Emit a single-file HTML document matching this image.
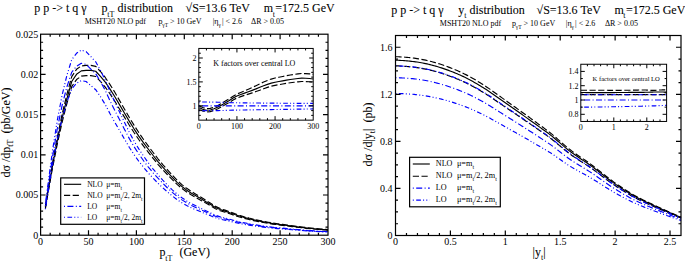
<!DOCTYPE html>
<html><head><meta charset="utf-8"><style>
html,body{margin:0;padding:0;background:#fff;}
svg{display:block;}
text{font-family:"Liberation Serif", serif;fill:#000;}
</style></head><body>
<svg width="685" height="261" viewBox="0 0 685 261">
<g stroke-linejoin="round">
<path d="M45.39,208.54 L47.79,194.27 L52.58,167.66 L57.37,143.71 L62.16,122.04 L66.94,103.26 L71.73,86.61 L76.53,79.57 L81.31,76.18 L86.1,75.66 L90.89,75.66 L95.69,76.52 L100.47,81.45 L105.27,87.13 L110.06,93.94 L114.84,101.28 L119.63,109.22 L124.42,117.13 L129.22,125.02 L134,132.48 L138.79,139.52 L143.58,146.13 L148.38,152.35 L153.16,158.4 L157.96,164.29 L162.75,169.73 L167.53,174.77 L172.32,179.66 L177.11,184.42 L181.91,188.48 L186.69,191.97 L191.48,195.01 L196.27,197.68 L201.06,200.39 L205.85,203.12 L210.64,205.91 L215.43,208.76 L220.22,210.8 L225.01,212.26 L229.8,213.81 L234.59,215.45 L239.38,216.93 L244.17,218.27 L248.96,219.48 L253.75,220.59 L258.54,221.59 L263.34,222.5 L268.12,223.34 L272.92,224.11 L277.7,224.76 L282.5,225.31 L287.29,225.92 L292.07,226.58 L296.87,227.2 L301.66,227.78 L306.45,228.31 L311.24,228.82 L316.03,229.25 L320.81,229.62 L325.61,230 L328,230.19" fill="none" stroke="#000" stroke-width="1.15" stroke-dasharray="6.2 2.5"/>
<path d="M45.39,206.39 L47.79,191.04 L52.58,162.51 L57.37,136.98 L62.16,113.99 L66.94,94.16 L71.73,76.63 L76.53,69.34 L81.31,65.9 L86.1,65.43 L90.89,65.43 L95.69,66.31 L100.47,71.5 L105.27,77.46 L110.06,84.61 L114.84,92.32 L119.63,100.66 L124.42,108.98 L129.22,117.29 L134,125.13 L138.79,132.55 L143.58,139.53 L148.38,146.1 L153.16,152.51 L157.96,158.76 L162.75,164.55 L167.53,169.92 L172.32,175.14 L177.11,180.24 L181.91,184.6 L186.69,188.35 L191.48,191.61 L196.27,194.47 L201.06,197.36 L205.85,200.29 L210.64,203.29 L215.43,206.37 L220.22,208.57 L225.01,210.15 L229.8,211.83 L234.59,213.63 L239.38,215.24 L244.17,216.69 L248.96,218.01 L253.75,219.21 L258.54,220.29 L263.34,221.28 L268.12,222.19 L272.92,223.02 L277.7,223.73 L282.5,224.32 L287.29,224.98 L292.07,225.71 L296.87,226.38 L301.66,227.01 L306.45,227.59 L311.24,228.14 L316.03,228.61 L320.81,229.02 L325.61,229.44 L328,229.64" fill="none" stroke="#000" stroke-width="1.15" stroke-dasharray="6.2 2.5"/>
<path d="M45.39,207.46 L47.79,192.65 L52.58,165.06 L57.37,140.3 L62.16,117.94 L66.94,98.61 L71.73,81.49 L76.53,74.31 L81.31,70.88 L86.1,70.38 L90.89,70.38 L95.69,71.26 L100.47,76.33 L105.27,82.18 L110.06,89.18 L114.84,96.73 L119.63,104.89 L124.42,113.03 L129.22,121.15 L134,128.82 L138.79,136.06 L143.58,142.87 L148.38,149.27 L153.16,155.5 L157.96,161.57 L162.75,167.19 L167.53,172.38 L172.32,177.43 L177.11,182.35 L181.91,186.54 L186.69,190.15 L191.48,193.29 L196.27,196.04 L201.06,198.82 L205.85,201.63 L210.64,204.52 L215.43,207.48 L220.22,209.59 L225.01,211.11 L229.8,212.73 L234.59,214.46 L239.38,216.01 L244.17,217.42 L248.96,218.7 L253.75,219.86 L258.54,220.92 L263.34,221.89 L268.12,222.77 L272.92,223.58 L277.7,224.27 L282.5,224.85 L287.29,225.48 L292.07,226.18 L296.87,226.83 L301.66,227.44 L306.45,228 L311.24,228.53 L316.03,228.98 L320.81,229.38 L325.61,229.77 L328,229.97" fill="none" stroke="#000" stroke-width="1.15"/>
<path d="M45.39,209.23 L47.79,194.13 L52.58,164.54 L57.37,139.23 L62.16,118.46 L66.94,101.85 L71.73,88.8 L76.53,83.36 L81.31,80.54 L86.1,81.56 L90.89,85.66 L95.69,89.7 L100.47,96.67 L105.27,104.6 L110.06,113.77 L114.84,122.34 L119.63,130.64 L124.42,138.95 L129.22,147.23 L134,154.6 L138.79,161.23 L143.58,167.37 L148.38,173.05 L153.16,178.29 L157.96,183.17 L162.75,187.74 L167.53,192.03 L172.32,195.99 L177.11,199.69 L181.91,202.84 L186.69,205.55 L191.48,207.9 L196.27,209.95 L201.06,211.93 L205.85,213.86 L210.64,215.82 L215.43,217.8 L220.22,219.21 L225.01,220.22 L229.8,221.29 L234.59,222.42 L239.38,223.42 L244.17,224.31 L248.96,225.12 L253.75,225.86 L258.54,226.52 L263.34,227.11 L268.12,227.65 L272.92,228.15 L277.7,228.58 L282.5,228.95 L287.29,229.34 L292.07,229.77 L296.87,230.16 L301.66,230.53 L306.45,230.87 L311.24,231.2 L316.03,231.47 L320.81,231.71 L325.61,231.95 L328,232.07" fill="none" stroke="#0000ff" stroke-width="1.15" stroke-dasharray="1 2.4 4.7 2.2 1 2.2"/>
<path d="M45.39,203.94 L47.79,185.77 L52.58,150.2 L57.37,119.83 L62.16,94.96 L66.94,75.15 L71.73,59.66 L76.53,53.32 L81.31,50.15 L86.1,51.58 L90.89,56.69 L95.69,61.82 L100.47,70.47 L105.27,80.28 L110.06,91.52 L114.84,102.03 L119.63,112.15 L124.42,122.21 L129.22,132.16 L134,140.98 L138.79,148.86 L143.58,156.13 L148.38,162.85 L153.16,169.03 L157.96,174.77 L162.75,180.14 L167.53,185.17 L172.32,189.81 L177.11,194.14 L181.91,197.82 L186.69,200.97 L191.48,203.71 L196.27,206.11 L201.06,208.41 L205.85,210.66 L210.64,212.93 L215.43,215.22 L220.22,216.86 L225.01,218.04 L229.8,219.28 L234.59,220.58 L239.38,221.74 L244.17,222.77 L248.96,223.7 L253.75,224.56 L258.54,225.32 L263.34,226 L268.12,226.62 L272.92,227.2 L277.7,227.69 L282.5,228.12 L287.29,228.57 L292.07,229.06 L296.87,229.51 L301.66,229.93 L306.45,230.32 L311.24,230.69 L316.03,231 L320.81,231.28 L325.61,231.55 L328,231.68" fill="none" stroke="#0000ff" stroke-width="1.15" stroke-dasharray="1 2.4 4.7 2.2 1 2.2"/>
<path d="M45.39,206.25 L47.79,189.42 L52.58,156.45 L57.37,128.27 L62.16,105.16 L66.94,86.72 L71.73,72.26 L76.53,66.28 L81.31,63.22 L86.1,64.44 L90.89,69.09 L95.69,73.71 L100.47,81.59 L105.27,90.56 L110.06,100.88 L114.84,110.53 L119.63,119.85 L124.42,129.15 L129.22,138.39 L134,146.59 L138.79,153.95 L143.58,160.75 L148.38,167.04 L153.16,172.83 L157.96,178.22 L162.75,183.26 L167.53,187.99 L172.32,192.35 L177.11,196.42 L181.91,199.88 L186.69,202.85 L191.48,205.43 L196.27,207.69 L201.06,209.86 L205.85,211.97 L210.64,214.12 L215.43,216.28 L220.22,217.83 L225.01,218.94 L229.8,220.11 L234.59,221.34 L239.38,222.43 L244.17,223.41 L248.96,224.29 L253.75,225.1 L258.54,225.82 L263.34,226.46 L268.12,227.05 L272.92,227.6 L277.7,228.06 L282.5,228.47 L287.29,228.9 L292.07,229.36 L296.87,229.79 L301.66,230.19 L306.45,230.56 L311.24,230.91 L316.03,231.21 L320.81,231.47 L325.61,231.72 L328,231.85" fill="none" stroke="#0000ff" stroke-width="1.15" stroke-dasharray="1 2.4 6 2.4"/>
</g>
<rect x="40.6" y="34.2" width="287.4" height="201" fill="none" stroke="#000" stroke-width="1.2"/>
<path d="M50.18,235.2v-2.5M50.18,34.2v2.5M59.76,235.2v-2.5M59.76,34.2v2.5M69.34,235.2v-2.5M69.34,34.2v2.5M78.92,235.2v-2.5M78.92,34.2v2.5M88.5,235.2v-5M88.5,34.2v5M98.08,235.2v-2.5M98.08,34.2v2.5M107.66,235.2v-2.5M107.66,34.2v2.5M117.24,235.2v-2.5M117.24,34.2v2.5M126.82,235.2v-2.5M126.82,34.2v2.5M136.4,235.2v-5M136.4,34.2v5M145.98,235.2v-2.5M145.98,34.2v2.5M155.56,235.2v-2.5M155.56,34.2v2.5M165.14,235.2v-2.5M165.14,34.2v2.5M174.72,235.2v-2.5M174.72,34.2v2.5M184.3,235.2v-5M184.3,34.2v5M193.88,235.2v-2.5M193.88,34.2v2.5M203.46,235.2v-2.5M203.46,34.2v2.5M213.04,235.2v-2.5M213.04,34.2v2.5M222.62,235.2v-2.5M222.62,34.2v2.5M232.2,235.2v-5M232.2,34.2v5M241.78,235.2v-2.5M241.78,34.2v2.5M251.36,235.2v-2.5M251.36,34.2v2.5M260.94,235.2v-2.5M260.94,34.2v2.5M270.52,235.2v-2.5M270.52,34.2v2.5M280.1,235.2v-5M280.1,34.2v5M289.68,235.2v-2.5M289.68,34.2v2.5M299.26,235.2v-2.5M299.26,34.2v2.5M308.84,235.2v-2.5M308.84,34.2v2.5M318.42,235.2v-2.5M318.42,34.2v2.5M40.6,227.16h2.5M328,227.16h-2.5M40.6,219.12h2.5M328,219.12h-2.5M40.6,211.08h2.5M328,211.08h-2.5M40.6,203.04h2.5M328,203.04h-2.5M40.6,195h5M328,195h-5M40.6,186.96h2.5M328,186.96h-2.5M40.6,178.92h2.5M328,178.92h-2.5M40.6,170.88h2.5M328,170.88h-2.5M40.6,162.84h2.5M328,162.84h-2.5M40.6,154.8h5M328,154.8h-5M40.6,146.76h2.5M328,146.76h-2.5M40.6,138.72h2.5M328,138.72h-2.5M40.6,130.68h2.5M328,130.68h-2.5M40.6,122.64h2.5M328,122.64h-2.5M40.6,114.6h5M328,114.6h-5M40.6,106.56h2.5M328,106.56h-2.5M40.6,98.52h2.5M328,98.52h-2.5M40.6,90.48h2.5M328,90.48h-2.5M40.6,82.44h2.5M328,82.44h-2.5M40.6,74.4h5M328,74.4h-5M40.6,66.36h2.5M328,66.36h-2.5M40.6,58.32h2.5M328,58.32h-2.5M40.6,50.28h2.5M328,50.28h-2.5M40.6,42.24h2.5M328,42.24h-2.5" stroke="#000" stroke-width="1.2" fill="none"/>
<text x="38.2" y="37.6" font-size="10" text-anchor="end">0.025</text>
<text x="38.2" y="77.8" font-size="10" text-anchor="end">0.02</text>
<text x="38.2" y="118" font-size="10" text-anchor="end">0.015</text>
<text x="38.2" y="158.2" font-size="10" text-anchor="end">0.01</text>
<text x="38.2" y="198.4" font-size="10" text-anchor="end">0.005</text>
<text x="38.2" y="238.6" font-size="10" text-anchor="end">0</text>
<text x="40.6" y="245.2" font-size="10" text-anchor="middle">0</text>
<text x="88.5" y="245.2" font-size="10" text-anchor="middle">50</text>
<text x="136.4" y="245.2" font-size="10" text-anchor="middle">100</text>
<text x="184.3" y="245.2" font-size="10" text-anchor="middle">150</text>
<text x="232.2" y="245.2" font-size="10" text-anchor="middle">200</text>
<text x="280.1" y="245.2" font-size="10" text-anchor="middle">250</text>
<text x="328" y="245.2" font-size="10" text-anchor="middle">300</text>
<rect x="198.8" y="48.44" width="114.4" height="71.7" fill="#fff" stroke="none"/>
<g stroke-linejoin="round">
<path d="M198.8,109.78 L200.71,109.97 L202.61,110.9 L206.43,111.89 L210.24,111.59 L214.05,110.32 L217.87,108.67 L221.68,106.66 L225.49,104.57 L229.31,102.37 L233.12,99.96 L236.93,97.99 L240.75,96.62 L244.56,95.34 L248.37,94.13 L252.19,92.88 L256,91.57 L259.81,90.18 L263.63,88.71 L267.44,87.39 L271.25,86.22 L275.07,85.35 L278.88,84.7 L282.69,84.01 L286.51,83.3 L290.32,82.74 L294.13,82.3 L297.95,81.81 L301.76,81.47 L305.57,81.55 L309.39,81.74 L313.2,82.16" fill="none" stroke="#000" stroke-width="1.15" stroke-dasharray="6.2 2.5"/>
<path d="M198.8,106.13 L200.71,106.41 L202.61,107.47 L206.43,108.65 L210.24,108.42 L214.05,107.14 L217.87,105.41 L221.68,103.29 L225.49,101.08 L229.31,98.75 L233.12,96.18 L236.93,94.06 L240.75,92.44 L244.56,90.81 L248.37,89.18 L252.19,87.45 L256,85.65 L259.81,83.82 L263.63,81.98 L267.44,80.43 L271.25,79.07 L275.07,78.06 L278.88,77.29 L282.69,76.5 L286.51,75.67 L290.32,75.02 L294.13,74.49 L297.95,73.92 L301.76,73.52 L305.57,73.61 L309.39,73.84 L313.2,74.33" fill="none" stroke="#000" stroke-width="1.15" stroke-dasharray="6.2 2.5"/>
<path d="M198.8,107.95 L200.71,108.19 L202.61,109.18 L206.43,110.27 L210.24,110.01 L214.05,108.73 L217.87,107.04 L221.68,104.98 L225.49,102.83 L229.31,100.56 L233.12,98.07 L236.93,96.03 L240.75,94.56 L244.56,93.14 L248.37,91.78 L252.19,90.35 L256,88.87 L259.81,87.33 L263.63,85.73 L267.44,84.34 L271.25,83.12 L275.07,82.21 L278.88,81.52 L282.69,80.81 L286.51,80.07 L290.32,79.48 L294.13,79.02 L297.95,78.51 L301.76,78.18 L305.57,78.29 L309.39,78.54 L313.2,79.03" fill="none" stroke="#000" stroke-width="1.15"/>
<path d="M198.8,110.72 L200.71,110.72 L202.61,110.72 L206.43,110.69 L210.24,110.66 L214.05,110.62 L217.87,110.58 L221.68,110.51 L225.49,110.42 L229.31,110.3 L233.12,110.19 L236.93,110.1 L240.75,110.03 L244.56,109.97 L248.37,109.91 L252.19,109.85 L256,109.8 L259.81,109.75 L263.63,109.69 L267.44,109.64 L271.25,109.59 L275.07,109.53 L278.88,109.47 L282.69,109.41 L286.51,109.35 L290.32,109.29 L294.13,109.22 L297.95,109.16 L301.76,109.1 L305.57,109.04 L309.39,108.97 L313.2,108.91" fill="none" stroke="#0000ff" stroke-width="1.15" stroke-dasharray="1 2.4 4.7 2.2 1 2.2"/>
<path d="M198.8,101.98 L200.71,101.99 L202.61,102 L206.43,102.04 L210.24,102.09 L214.05,102.15 L217.87,102.22 L221.68,102.31 L225.49,102.44 L229.31,102.58 L233.12,102.7 L236.93,102.79 L240.75,102.85 L244.56,102.9 L248.37,102.94 L252.19,102.98 L256,103.02 L259.81,103.05 L263.63,103.08 L267.44,103.11 L271.25,103.14 L275.07,103.17 L278.88,103.2 L282.69,103.23 L286.51,103.26 L290.32,103.28 L294.13,103.31 L297.95,103.33 L301.76,103.35 L305.57,103.37 L309.39,103.39 L313.2,103.41" fill="none" stroke="#0000ff" stroke-width="1.15" stroke-dasharray="1 2.4 4.7 2.2 1 2.2"/>
<path d="M198.8,105.8 L200.71,105.8 L202.61,105.8 L206.43,105.8 L210.24,105.8 L214.05,105.8 L217.87,105.8 L221.68,105.8 L225.49,105.8 L229.31,105.8 L233.12,105.8 L236.93,105.8 L240.75,105.8 L244.56,105.8 L248.37,105.8 L252.19,105.8 L256,105.8 L259.81,105.8 L263.63,105.8 L267.44,105.8 L271.25,105.8 L275.07,105.8 L278.88,105.8 L282.69,105.8 L286.51,105.8 L290.32,105.8 L294.13,105.8 L297.95,105.8 L301.76,105.8 L305.57,105.8 L309.39,105.8 L313.2,105.8" fill="none" stroke="#0000ff" stroke-width="1.15" stroke-dasharray="1 2.4 6 2.4"/>
</g>
<rect x="198.8" y="48.44" width="114.4" height="71.7" fill="none" stroke="#000" stroke-width="1.0"/>
<path d="M206.43,120.14v-2M206.43,48.44v2M214.05,120.14v-2M214.05,48.44v2M221.68,120.14v-2M221.68,48.44v2M229.31,120.14v-2M229.31,48.44v2M236.93,120.14v-4M236.93,48.44v4M244.56,120.14v-2M244.56,48.44v2M252.19,120.14v-2M252.19,48.44v2M259.81,120.14v-2M259.81,48.44v2M267.44,120.14v-2M267.44,48.44v2M275.07,120.14v-4M275.07,48.44v4M282.69,120.14v-2M282.69,48.44v2M290.32,120.14v-2M290.32,48.44v2M297.95,120.14v-2M297.95,48.44v2M305.57,120.14v-2M305.57,48.44v2M198.8,115.36h2M313.2,115.36h-2M198.8,110.58h2M313.2,110.58h-2M198.8,105.8h4M313.2,105.8h-4M198.8,101.02h2M313.2,101.02h-2M198.8,96.24h2M313.2,96.24h-2M198.8,91.46h2M313.2,91.46h-2M198.8,86.68h2M313.2,86.68h-2M198.8,81.9h4M313.2,81.9h-4M198.8,77.12h2M313.2,77.12h-2M198.8,72.34h2M313.2,72.34h-2M198.8,67.56h2M313.2,67.56h-2M198.8,62.78h2M313.2,62.78h-2M198.8,58h4M313.2,58h-4M198.8,53.22h2M313.2,53.22h-2" stroke="#000" stroke-width="1.0" fill="none"/>
<text x="196.5" y="60.8" font-size="8" text-anchor="end">2</text>
<text x="196.5" y="84.7" font-size="8" text-anchor="end">1.5</text>
<text x="196.5" y="108.6" font-size="8" text-anchor="end">1</text>
<text x="198.8" y="129.2" font-size="8" text-anchor="middle">0</text>
<text x="236.93" y="129.2" font-size="8" text-anchor="middle">100</text>
<text x="275.07" y="129.2" font-size="8" text-anchor="middle">200</text>
<text x="313.2" y="129.2" font-size="8" text-anchor="middle">300</text>
<text x="213.2" y="65.9" font-size="8">K factors over central LO</text>
<rect x="60.7" y="177.9" width="83.8" height="46.4" fill="#fff" stroke="#000" stroke-width="1.2"/>
<path d="M64,184.3H81.2" stroke="#000" stroke-width="1.15"/>
<text x="87.2" y="186.7" font-size="7.5">NLO</text>
<text x="106.3" y="186.7" font-size="7.5">μ=m<tspan font-size="5.5" dy="2.9">t</tspan></text>
<path d="M64,195.3H81.2" stroke="#000" stroke-width="1.15" stroke-dasharray="6.2 2.5"/>
<text x="87.2" y="197.7" font-size="7.5">NLO</text>
<text x="106.3" y="197.7" font-size="7.5">μ=m<tspan font-size="5.5" dy="2.9">t</tspan><tspan dy="-2.9">/2, 2m</tspan><tspan font-size="5.5" dy="2.9">t</tspan></text>
<path d="M64,206.3H81.2" stroke="#0000ff" stroke-width="1.15" stroke-dasharray="1 2.4 6 2.4"/>
<text x="87.2" y="208.7" font-size="7.5">LO</text>
<text x="106.3" y="208.7" font-size="7.5">μ=m<tspan font-size="5.5" dy="2.9">t</tspan></text>
<path d="M64,217.2H81.2" stroke="#0000ff" stroke-width="1.15" stroke-dasharray="1 2.4 4.7 2.2 1 2.2"/>
<text x="87.2" y="219.6" font-size="7.5">LO</text>
<text x="106.3" y="219.6" font-size="7.5">μ=m<tspan font-size="5.5" dy="2.9">t</tspan><tspan dy="-2.9">/2, 2m</tspan><tspan font-size="5.5" dy="2.9">t</tspan></text>
<text x="34.2" y="12.2" font-size="12" stroke="#000" stroke-width="0.08">p p -&gt; t q γ</text>
<text x="101.5" y="12.2" font-size="12" stroke="#000" stroke-width="0.08">p</text>
<text x="107.2" y="16.8" font-size="8">tT</text>
<text x="117.6" y="12.2" font-size="12" stroke="#000" stroke-width="0.08">distribution</text>
<text x="185.6" y="12.2" font-size="12" stroke="#000" stroke-width="0.08">√S=13.6 TeV</text>
<text x="263.8" y="12.2" font-size="12" stroke="#000" stroke-width="0.08">m</text>
<text x="272.7" y="16.8" font-size="8">t</text>
<text x="275.3" y="12.2" font-size="12" stroke="#000" stroke-width="0.08">=172.5 GeV</text>
<text x="84.7" y="23.8" font-size="8">MSHT20 NLO pdf</text>
<text x="158.5" y="23.8" font-size="8">p</text>
<text x="162.3" y="27" font-size="5.5">γT</text>
<text x="170" y="23.8" font-size="8">&gt; 10 GeV</text>
<text x="212.7" y="23.8" font-size="8">|η</text>
<text x="218.5" y="27" font-size="5.5">γ</text>
<text x="222" y="23.8" font-size="8">| &lt; 2.6</text>
<text x="251" y="23.8" font-size="8">ΔR &gt; 0.05</text>
<text x="159.5" y="256.3" font-size="12" stroke="#000" stroke-width="0.08">p</text>
<text x="165.3" y="260.5" font-size="8">tT</text>
<text x="179.4" y="256.3" font-size="12" stroke="#000" stroke-width="0.08">(GeV)</text>
<text transform="translate(9.5,177.5) rotate(-90)" font-size="12" stroke="#000" stroke-width="0.08">dσ /dp<tspan font-size="8" dy="3.8">tT</tspan><tspan dy="-3.8" xml:space="preserve">  (pb/GeV)</tspan></text>
<g stroke-linejoin="round">
<path d="M395.5,65.82 L396.93,65.85 L398.37,65.91 L399.8,65.97 L401.24,66.06 L402.67,66.15 L404.11,66.25 L405.54,66.37 L406.98,66.49 L408.41,66.62 L409.85,66.75 L411.28,66.89 L412.72,67.03 L414.15,67.2 L415.59,67.38 L417.02,67.59 L418.45,67.81 L419.89,68.05 L421.32,68.31 L422.76,68.57 L424.19,68.84 L425.63,69.12 L427.06,69.42 L428.5,69.73 L429.93,70.07 L431.37,70.42 L432.8,70.79 L434.24,71.18 L435.67,71.57 L437.11,71.98 L438.54,72.39 L439.97,72.81 L441.41,73.25 L442.84,73.7 L444.28,74.17 L445.71,74.66 L447.15,75.16 L448.58,75.68 L450.02,76.2 L451.45,76.74 L452.89,77.29 L454.32,77.84 L455.76,78.41 L457.19,78.99 L458.63,79.59 L460.06,80.2 L461.49,80.83 L462.93,81.48 L464.36,82.15 L465.8,82.83 L467.23,83.53 L468.67,84.25 L470.1,84.98 L471.54,85.74 L472.97,86.51 L474.41,87.29 L475.84,88.09 L477.28,88.91 L478.71,89.74 L480.15,90.58 L481.58,91.43 L483.02,92.29 L484.45,93.16 L485.88,94.04 L487.32,94.95 L488.75,95.88 L490.19,96.83 L491.62,97.8 L493.06,98.77 L494.49,99.76 L495.93,100.74 L497.36,101.73 L498.8,102.71 L500.23,103.67 L501.67,104.64 L503.1,105.61 L504.54,106.58 L505.97,107.55 L507.4,108.52 L508.84,109.49 L510.27,110.46 L511.71,111.44 L513.14,112.41 L514.58,113.38 L516.01,114.35 L517.45,115.32 L518.88,116.28 L520.32,117.25 L521.75,118.22 L523.19,119.19 L524.62,120.17 L526.06,121.15 L527.49,122.13 L528.92,123.12 L530.36,124.11 L531.79,125.1 L533.23,126.09 L534.66,127.09 L536.1,128.09 L537.53,129.09 L538.97,130.09 L540.4,131.09 L541.84,132.08 L543.27,133.07 L544.71,134.08 L546.14,135.09 L547.58,136.11 L549.01,137.15 L550.44,138.22 L551.88,139.31 L553.31,140.44 L554.75,141.6 L556.18,142.78 L557.62,143.97 L559.05,145.18 L560.49,146.38 L561.92,147.58 L563.36,148.77 L564.79,149.95 L566.23,151.11 L567.66,152.24 L569.1,153.33 L570.53,154.39 L571.96,155.42 L573.4,156.42 L574.83,157.39 L576.27,158.35 L577.7,159.3 L579.14,160.23 L580.57,161.16 L582.01,162.08 L583.44,163 L584.88,163.93 L586.31,164.87 L587.75,165.82 L589.18,166.78 L590.62,167.77 L592.05,168.78 L593.48,169.8 L594.92,170.85 L596.35,171.91 L597.79,172.97 L599.22,174.05 L600.66,175.13 L602.09,176.22 L603.53,177.3 L604.96,178.38 L606.4,179.45 L607.83,180.51 L609.27,181.55 L610.7,182.58 L612.14,183.59 L613.57,184.58 L615.01,185.55 L616.44,186.49 L617.87,187.43 L619.31,188.36 L620.74,189.28 L622.18,190.19 L623.61,191.09 L625.05,191.98 L626.48,192.85 L627.92,193.71 L629.35,194.56 L630.79,195.38 L632.22,196.19 L633.66,196.98 L635.09,197.74 L636.53,198.49 L637.96,199.22 L639.39,199.93 L640.83,200.62 L642.26,201.31 L643.7,201.98 L645.13,202.63 L646.57,203.29 L648,203.93 L649.44,204.57 L650.87,205.21 L652.31,205.84 L653.74,206.48 L655.18,207.12 L656.61,207.76 L658.05,208.39 L659.48,209.02 L660.91,209.65 L662.35,210.28 L663.78,210.9 L665.22,211.52 L666.65,212.13 L668.09,212.74 L669.52,213.35 L670.96,213.96 L672.39,214.56 L673.83,215.15 L675.26,215.75 L676.7,216.33 L678.13,216.92 L679.57,217.5 L681,218.08" fill="none" stroke="#000" stroke-width="1.15" stroke-dasharray="6.2 2.5"/>
<path d="M395.5,56.7 L396.93,56.74 L398.37,56.8 L399.8,56.87 L401.24,56.95 L402.67,57.05 L404.11,57.16 L405.54,57.28 L406.98,57.41 L408.41,57.54 L409.85,57.68 L411.28,57.83 L412.72,57.98 L414.15,58.15 L415.59,58.35 L417.02,58.57 L418.45,58.81 L419.89,59.06 L421.32,59.33 L422.76,59.6 L424.19,59.89 L425.63,60.18 L427.06,60.5 L428.5,60.83 L429.93,61.18 L431.37,61.56 L432.8,61.95 L434.24,62.35 L435.67,62.77 L437.11,63.19 L438.54,63.63 L439.97,64.07 L441.41,64.53 L442.84,65.01 L444.28,65.51 L445.71,66.02 L447.15,66.55 L448.58,67.09 L450.02,67.65 L451.45,68.21 L452.89,68.79 L454.32,69.37 L455.76,69.97 L457.19,70.58 L458.63,71.21 L460.06,71.86 L461.49,72.53 L462.93,73.21 L464.36,73.91 L465.8,74.63 L467.23,75.37 L468.67,76.12 L470.1,76.9 L471.54,77.69 L472.97,78.5 L474.41,79.33 L475.84,80.18 L477.28,81.03 L478.71,81.91 L480.15,82.79 L481.58,83.69 L483.02,84.59 L484.45,85.51 L485.88,86.44 L487.32,87.4 L488.75,88.38 L490.19,89.38 L491.62,90.4 L493.06,91.43 L494.49,92.47 L495.93,93.51 L497.36,94.54 L498.8,95.57 L500.23,96.59 L501.67,97.61 L503.1,98.63 L504.54,99.65 L505.97,100.68 L507.4,101.7 L508.84,102.72 L510.27,103.75 L511.71,104.77 L513.14,105.8 L514.58,106.82 L516.01,107.84 L517.45,108.86 L518.88,109.88 L520.32,110.9 L521.75,111.92 L523.19,112.95 L524.62,113.97 L526.06,115.01 L527.49,116.04 L528.92,117.08 L530.36,118.12 L531.79,119.17 L533.23,120.22 L534.66,121.27 L536.1,122.32 L537.53,123.37 L538.97,124.43 L540.4,125.48 L541.84,126.52 L543.27,127.57 L544.71,128.63 L546.14,129.69 L547.58,130.77 L549.01,131.87 L550.44,132.99 L551.88,134.15 L553.31,135.34 L554.75,136.56 L556.18,137.8 L557.62,139.06 L559.05,140.32 L560.49,141.59 L561.92,142.86 L563.36,144.12 L564.79,145.36 L566.23,146.58 L567.66,147.77 L569.1,148.92 L570.53,150.03 L571.96,151.11 L573.4,152.17 L574.83,153.2 L576.27,154.21 L577.7,155.2 L579.14,156.19 L580.57,157.16 L582.01,158.13 L583.44,159.11 L584.88,160.09 L586.31,161.07 L587.75,162.07 L589.18,163.09 L590.62,164.13 L592.05,165.19 L593.48,166.27 L594.92,167.37 L596.35,168.49 L597.79,169.62 L599.22,170.75 L600.66,171.89 L602.09,173.03 L603.53,174.17 L604.96,175.31 L606.4,176.43 L607.83,177.55 L609.27,178.65 L610.7,179.74 L612.14,180.81 L613.57,181.85 L615.01,182.86 L616.44,183.86 L617.87,184.85 L619.31,185.83 L620.74,186.8 L622.18,187.76 L623.61,188.71 L625.05,189.64 L626.48,190.56 L627.92,191.47 L629.35,192.36 L630.79,193.23 L632.22,194.08 L633.66,194.91 L635.09,195.72 L636.53,196.5 L637.96,197.27 L639.39,198.02 L640.83,198.75 L642.26,199.47 L643.7,200.17 L645.13,200.87 L646.57,201.56 L648,202.24 L649.44,202.91 L650.87,203.58 L652.31,204.25 L653.74,204.92 L655.18,205.59 L656.61,206.27 L658.05,206.93 L659.48,207.6 L660.91,208.26 L662.35,208.92 L663.78,209.58 L665.22,210.23 L666.65,210.88 L668.09,211.52 L669.52,212.16 L670.96,212.8 L672.39,213.43 L673.83,214.06 L675.26,214.68 L676.7,215.3 L678.13,215.92 L679.57,216.53 L681,217.14" fill="none" stroke="#000" stroke-width="1.15" stroke-dasharray="6.2 2.5"/>
<path d="M395.5,60.21 L396.93,60.24 L398.37,60.3 L399.8,60.37 L401.24,60.45 L402.67,60.55 L404.11,60.66 L405.54,60.78 L406.98,60.9 L408.41,61.03 L409.85,61.17 L411.28,61.31 L412.72,61.46 L414.15,61.63 L415.59,61.82 L417.02,62.04 L418.45,62.27 L419.89,62.52 L421.32,62.78 L422.76,63.05 L424.19,63.33 L425.63,63.62 L427.06,63.93 L428.5,64.25 L429.93,64.6 L431.37,64.97 L432.8,65.35 L434.24,65.74 L435.67,66.15 L437.11,66.57 L438.54,67 L439.97,67.43 L441.41,67.89 L442.84,68.36 L444.28,68.84 L445.71,69.34 L447.15,69.86 L448.58,70.39 L450.02,70.94 L451.45,71.49 L452.89,72.06 L454.32,72.63 L455.76,73.21 L457.19,73.82 L458.63,74.43 L460.06,75.07 L461.49,75.72 L462.93,76.39 L464.36,77.08 L465.8,77.78 L467.23,78.51 L468.67,79.25 L470.1,80.01 L471.54,80.79 L472.97,81.58 L474.41,82.39 L475.84,83.22 L477.28,84.06 L478.71,84.92 L480.15,85.79 L481.58,86.66 L483.02,87.55 L484.45,88.45 L485.88,89.36 L487.32,90.3 L488.75,91.26 L490.19,92.25 L491.62,93.24 L493.06,94.25 L494.49,95.27 L495.93,96.29 L497.36,97.31 L498.8,98.32 L500.23,99.32 L501.67,100.32 L503.1,101.32 L504.54,102.32 L505.97,103.32 L507.4,104.32 L508.84,105.33 L510.27,106.33 L511.71,107.34 L513.14,108.34 L514.58,109.34 L516.01,110.34 L517.45,111.34 L518.88,112.34 L520.32,113.34 L521.75,114.34 L523.19,115.35 L524.62,116.36 L526.06,117.37 L527.49,118.39 L528.92,119.41 L530.36,120.43 L531.79,121.45 L533.23,122.48 L534.66,123.51 L536.1,124.54 L537.53,125.57 L538.97,126.61 L540.4,127.63 L541.84,128.66 L543.27,129.69 L544.71,130.72 L546.14,131.77 L547.58,132.82 L549.01,133.9 L550.44,135 L551.88,136.14 L553.31,137.3 L554.75,138.5 L556.18,139.72 L557.62,140.95 L559.05,142.19 L560.49,143.43 L561.92,144.68 L563.36,145.91 L564.79,147.12 L566.23,148.32 L567.66,149.49 L569.1,150.62 L570.53,151.71 L571.96,152.77 L573.4,153.8 L574.83,154.81 L576.27,155.8 L577.7,156.78 L579.14,157.74 L580.57,158.7 L582.01,159.65 L583.44,160.61 L584.88,161.57 L586.31,162.53 L587.75,163.51 L589.18,164.51 L590.62,165.53 L592.05,166.57 L593.48,167.63 L594.92,168.71 L596.35,169.8 L597.79,170.91 L599.22,172.02 L600.66,173.14 L602.09,174.26 L603.53,175.37 L604.96,176.49 L606.4,177.59 L607.83,178.69 L609.27,179.77 L610.7,180.83 L612.14,181.88 L613.57,182.9 L615.01,183.9 L616.44,184.87 L617.87,185.84 L619.31,186.8 L620.74,187.75 L622.18,188.7 L623.61,189.63 L625.05,190.54 L626.48,191.44 L627.92,192.33 L629.35,193.2 L630.79,194.06 L632.22,194.89 L633.66,195.7 L635.09,196.5 L636.53,197.27 L637.96,198.02 L639.39,198.75 L640.83,199.47 L642.26,200.17 L643.7,200.87 L645.13,201.55 L646.57,202.22 L648,202.89 L649.44,203.55 L650.87,204.21 L652.31,204.86 L653.74,205.52 L655.18,206.18 L656.61,206.84 L658.05,207.49 L659.48,208.15 L660.91,208.8 L662.35,209.44 L663.78,210.08 L665.22,210.72 L666.65,211.36 L668.09,211.99 L669.52,212.62 L670.96,213.24 L672.39,213.86 L673.83,214.48 L675.26,215.09 L676.7,215.7 L678.13,216.3 L679.57,216.9 L681,217.5" fill="none" stroke="#000" stroke-width="1.15"/>
<path d="M395.5,93.5 L396.93,93.51 L398.37,93.54 L399.8,93.58 L401.24,93.63 L402.67,93.69 L404.11,93.76 L405.54,93.84 L406.98,93.92 L408.41,94.01 L409.85,94.11 L411.28,94.2 L412.72,94.3 L414.15,94.42 L415.59,94.56 L417.02,94.72 L418.45,94.89 L419.89,95.07 L421.32,95.26 L422.76,95.46 L424.19,95.67 L425.63,95.88 L427.06,96.12 L428.5,96.36 L429.93,96.63 L431.37,96.9 L432.8,97.2 L434.24,97.5 L435.67,97.81 L437.11,98.13 L438.54,98.46 L439.97,98.8 L441.41,99.15 L442.84,99.52 L444.28,99.9 L445.71,100.29 L447.15,100.69 L448.58,101.11 L450.02,101.54 L451.45,101.97 L452.89,102.42 L454.32,102.87 L455.76,103.33 L457.19,103.8 L458.63,104.28 L460.06,104.78 L461.49,105.29 L462.93,105.82 L464.36,106.36 L465.8,106.91 L467.23,107.48 L468.67,108.06 L470.1,108.66 L471.54,109.27 L472.97,109.9 L474.41,110.54 L475.84,111.19 L477.28,111.86 L478.71,112.54 L480.15,113.22 L481.58,113.92 L483.02,114.62 L484.45,115.33 L485.88,116.06 L487.32,116.8 L488.75,117.57 L490.19,118.35 L491.62,119.15 L493.06,119.95 L494.49,120.76 L495.93,121.58 L497.36,122.39 L498.8,123.2 L500.23,124 L501.67,124.8 L503.1,125.6 L504.54,126.41 L505.97,127.21 L507.4,128.02 L508.84,128.83 L510.27,129.64 L511.71,130.45 L513.14,131.26 L514.58,132.06 L516.01,132.87 L517.45,133.68 L518.88,134.48 L520.32,135.29 L521.75,136.1 L523.19,136.91 L524.62,137.73 L526.06,138.55 L527.49,139.37 L528.92,140.19 L530.36,141.02 L531.79,141.85 L533.23,142.68 L534.66,143.51 L536.1,144.35 L537.53,145.19 L538.97,146.03 L540.4,146.87 L541.84,147.7 L543.27,148.54 L544.71,149.38 L546.14,150.23 L547.58,151.09 L549.01,151.96 L550.44,152.86 L551.88,153.79 L553.31,154.74 L554.75,155.71 L556.18,156.71 L557.62,157.72 L559.05,158.73 L560.49,159.75 L561.92,160.76 L563.36,161.77 L564.79,162.77 L566.23,163.74 L567.66,164.7 L569.1,165.62 L570.53,166.52 L571.96,167.38 L573.4,168.23 L574.83,169.05 L576.27,169.86 L577.7,170.66 L579.14,171.45 L580.57,172.23 L582.01,173.01 L583.44,173.79 L584.88,174.57 L586.31,175.37 L587.75,176.17 L589.18,176.98 L590.62,177.82 L592.05,178.67 L593.48,179.54 L594.92,180.42 L596.35,181.32 L597.79,182.22 L599.22,183.14 L600.66,184.05 L602.09,184.97 L603.53,185.89 L604.96,186.8 L606.4,187.71 L607.83,188.61 L609.27,189.5 L610.7,190.37 L612.14,191.23 L613.57,192.07 L615.01,192.88 L616.44,193.69 L617.87,194.48 L619.31,195.28 L620.74,196.06 L622.18,196.84 L623.61,197.61 L625.05,198.36 L626.48,199.11 L627.92,199.84 L629.35,200.56 L630.79,201.27 L632.22,201.96 L633.66,202.63 L635.09,203.28 L636.53,203.92 L637.96,204.54 L639.39,205.14 L640.83,205.73 L642.26,206.31 L643.7,206.88 L645.13,207.44 L646.57,207.99 L648,208.54 L649.44,209.08 L650.87,209.61 L652.31,210.15 L653.74,210.69 L655.18,211.23 L656.61,211.77 L658.05,212.3 L659.48,212.84 L660.91,213.37 L662.35,213.9 L663.78,214.42 L665.22,214.95 L666.65,215.47 L668.09,215.98 L669.52,216.5 L670.96,217.01 L672.39,217.52 L673.83,218.02 L675.26,218.52 L676.7,219.02 L678.13,219.52 L679.57,220.01 L681,220.5" fill="none" stroke="#0000ff" stroke-width="1.15" stroke-dasharray="1 2.4 4.7 2.2 1 2.2"/>
<path d="M395.5,65.89 L396.93,65.91 L398.37,65.95 L399.8,66 L401.24,66.07 L402.67,66.15 L404.11,66.24 L405.54,66.34 L406.98,66.45 L408.41,66.56 L409.85,66.68 L411.28,66.8 L412.72,66.93 L414.15,67.08 L415.59,67.26 L417.02,67.45 L418.45,67.66 L419.89,67.89 L421.32,68.13 L422.76,68.38 L424.19,68.64 L425.63,68.9 L427.06,69.19 L428.5,69.49 L429.93,69.82 L431.37,70.16 L432.8,70.52 L434.24,70.89 L435.67,71.28 L437.11,71.68 L438.54,72.08 L439.97,72.49 L441.41,72.92 L442.84,73.37 L444.28,73.83 L445.71,74.31 L447.15,74.81 L448.58,75.32 L450.02,75.84 L451.45,76.37 L452.89,76.91 L454.32,77.47 L455.76,78.02 L457.19,78.6 L458.63,79.19 L460.06,79.8 L461.49,80.43 L462.93,81.07 L464.36,81.73 L465.8,82.41 L467.23,83.1 L468.67,83.81 L470.1,84.54 L471.54,85.29 L472.97,86.05 L474.41,86.83 L475.84,87.63 L477.28,88.44 L478.71,89.26 L480.15,90.09 L481.58,90.94 L483.02,91.79 L484.45,92.66 L485.88,93.54 L487.32,94.44 L488.75,95.37 L490.19,96.32 L491.62,97.28 L493.06,98.26 L494.49,99.24 L495.93,100.22 L497.36,101.2 L498.8,102.18 L500.23,103.15 L501.67,104.11 L503.1,105.08 L504.54,106.05 L505.97,107.02 L507.4,108 L508.84,108.97 L510.27,109.94 L511.71,110.91 L513.14,111.89 L514.58,112.86 L516.01,113.83 L517.45,114.8 L518.88,115.77 L520.32,116.74 L521.75,117.71 L523.19,118.68 L524.62,119.66 L526.06,120.65 L527.49,121.63 L528.92,122.62 L530.36,123.61 L531.79,124.61 L533.23,125.61 L534.66,126.61 L536.1,127.61 L537.53,128.61 L538.97,129.62 L540.4,130.62 L541.84,131.62 L543.27,132.62 L544.71,133.63 L546.14,134.64 L547.58,135.67 L549.01,136.72 L550.44,137.79 L551.88,138.9 L553.31,140.04 L554.75,141.2 L556.18,142.39 L557.62,143.59 L559.05,144.8 L560.49,146.02 L561.92,147.23 L563.36,148.43 L564.79,149.61 L566.23,150.78 L567.66,151.92 L569.1,153.02 L570.53,154.08 L571.96,155.12 L573.4,156.12 L574.83,157.11 L576.27,158.07 L577.7,159.02 L579.14,159.96 L580.57,160.89 L582.01,161.82 L583.44,162.75 L584.88,163.69 L586.31,164.63 L587.75,165.59 L589.18,166.56 L590.62,167.55 L592.05,168.56 L593.48,169.6 L594.92,170.65 L596.35,171.71 L597.79,172.79 L599.22,173.87 L600.66,174.96 L602.09,176.05 L603.53,177.13 L604.96,178.22 L606.4,179.29 L607.83,180.36 L609.27,181.41 L610.7,182.45 L612.14,183.47 L613.57,184.46 L615.01,185.43 L616.44,186.38 L617.87,187.33 L619.31,188.27 L620.74,189.2 L622.18,190.12 L623.61,191.03 L625.05,191.93 L626.48,192.81 L627.92,193.68 L629.35,194.53 L630.79,195.37 L632.22,196.18 L633.66,196.98 L635.09,197.75 L636.53,198.51 L637.96,199.24 L639.39,199.96 L640.83,200.66 L642.26,201.34 L643.7,202.01 L645.13,202.68 L646.57,203.33 L648,203.97 L649.44,204.61 L650.87,205.25 L652.31,205.88 L653.74,206.52 L655.18,207.15 L656.61,207.79 L658.05,208.42 L659.48,209.05 L660.91,209.68 L662.35,210.3 L663.78,210.92 L665.22,211.54 L666.65,212.15 L668.09,212.76 L669.52,213.37 L670.96,213.97 L672.39,214.57 L673.83,215.16 L675.26,215.75 L676.7,216.34 L678.13,216.92 L679.57,217.49 L681,218.07" fill="none" stroke="#0000ff" stroke-width="1.15" stroke-dasharray="1 2.4 4.7 2.2 1 2.2"/>
<path d="M395.5,77.72 L396.93,77.74 L398.37,77.78 L399.8,77.83 L401.24,77.89 L402.67,77.96 L404.11,78.05 L405.54,78.14 L406.98,78.24 L408.41,78.35 L409.85,78.46 L411.28,78.57 L412.72,78.69 L414.15,78.83 L415.59,78.99 L417.02,79.17 L418.45,79.37 L419.89,79.58 L421.32,79.81 L422.76,80.04 L424.19,80.28 L425.63,80.53 L427.06,80.79 L428.5,81.08 L429.93,81.38 L431.37,81.7 L432.8,82.03 L434.24,82.38 L435.67,82.74 L437.11,83.11 L438.54,83.48 L439.97,83.87 L441.41,84.27 L442.84,84.68 L444.28,85.11 L445.71,85.56 L447.15,86.02 L448.58,86.49 L450.02,86.98 L451.45,87.47 L452.89,87.98 L454.32,88.49 L455.76,89.01 L457.19,89.55 L458.63,90.1 L460.06,90.67 L461.49,91.25 L462.93,91.85 L464.36,92.46 L465.8,93.09 L467.23,93.73 L468.67,94.39 L470.1,95.07 L471.54,95.77 L472.97,96.48 L474.41,97.2 L475.84,97.94 L477.28,98.7 L478.71,99.46 L480.15,100.24 L481.58,101.02 L483.02,101.82 L484.45,102.63 L485.88,103.44 L487.32,104.28 L488.75,105.15 L490.19,106.03 L491.62,106.92 L493.06,107.83 L494.49,108.74 L495.93,109.66 L497.36,110.57 L498.8,111.48 L500.23,112.38 L501.67,113.28 L503.1,114.18 L504.54,115.08 L505.97,115.99 L507.4,116.89 L508.84,117.8 L510.27,118.7 L511.71,119.61 L513.14,120.51 L514.58,121.42 L516.01,122.32 L517.45,123.22 L518.88,124.12 L520.32,125.02 L521.75,125.93 L523.19,126.83 L524.62,127.75 L526.06,128.66 L527.49,129.58 L528.92,130.5 L530.36,131.42 L531.79,132.35 L533.23,133.27 L534.66,134.2 L536.1,135.14 L537.53,136.07 L538.97,137.01 L540.4,137.94 L541.84,138.87 L543.27,139.8 L544.71,140.73 L546.14,141.68 L547.58,142.64 L549.01,143.61 L550.44,144.61 L551.88,145.64 L553.31,146.7 L554.75,147.78 L556.18,148.88 L557.62,150 L559.05,151.13 L560.49,152.26 L561.92,153.38 L563.36,154.5 L564.79,155.61 L566.23,156.69 L567.66,157.75 L569.1,158.77 L570.53,159.76 L571.96,160.72 L573.4,161.66 L574.83,162.58 L576.27,163.47 L577.7,164.36 L579.14,165.23 L580.57,166.1 L582.01,166.96 L583.44,167.83 L584.88,168.7 L586.31,169.58 L587.75,170.46 L589.18,171.37 L590.62,172.29 L592.05,173.23 L593.48,174.19 L594.92,175.17 L596.35,176.16 L597.79,177.16 L599.22,178.17 L600.66,179.18 L602.09,180.19 L603.53,181.21 L604.96,182.21 L606.4,183.22 L607.83,184.21 L609.27,185.19 L610.7,186.15 L612.14,187.1 L613.57,188.02 L615.01,188.92 L616.44,189.81 L617.87,190.69 L619.31,191.56 L620.74,192.43 L622.18,193.29 L623.61,194.13 L625.05,194.97 L626.48,195.79 L627.92,196.6 L629.35,197.39 L630.79,198.17 L632.22,198.93 L633.66,199.67 L635.09,200.39 L636.53,201.09 L637.96,201.77 L639.39,202.44 L640.83,203.09 L642.26,203.72 L643.7,204.35 L645.13,204.97 L646.57,205.57 L648,206.17 L649.44,206.77 L650.87,207.36 L652.31,207.95 L653.74,208.54 L655.18,209.13 L656.61,209.72 L658.05,210.31 L659.48,210.9 L660.91,211.48 L662.35,212.06 L663.78,212.64 L665.22,213.21 L666.65,213.78 L668.09,214.35 L669.52,214.91 L670.96,215.47 L672.39,216.03 L673.83,216.58 L675.26,217.13 L676.7,217.67 L678.13,218.21 L679.57,218.75 L681,219.28" fill="none" stroke="#0000ff" stroke-width="1.15" stroke-dasharray="1 2.4 6 2.4"/>
</g>
<rect x="395.5" y="35.5" width="285.5" height="200" fill="none" stroke="#000" stroke-width="1.2"/>
<path d="M406.48,235.5v-2.5M406.48,35.5v2.5M417.46,235.5v-2.5M417.46,35.5v2.5M428.44,235.5v-2.5M428.44,35.5v2.5M439.42,235.5v-2.5M439.42,35.5v2.5M450.4,235.5v-5M450.4,35.5v5M461.38,235.5v-2.5M461.38,35.5v2.5M472.37,235.5v-2.5M472.37,35.5v2.5M483.35,235.5v-2.5M483.35,35.5v2.5M494.33,235.5v-2.5M494.33,35.5v2.5M505.31,235.5v-5M505.31,35.5v5M516.29,235.5v-2.5M516.29,35.5v2.5M527.27,235.5v-2.5M527.27,35.5v2.5M538.25,235.5v-2.5M538.25,35.5v2.5M549.23,235.5v-2.5M549.23,35.5v2.5M560.21,235.5v-5M560.21,35.5v5M571.19,235.5v-2.5M571.19,35.5v2.5M582.17,235.5v-2.5M582.17,35.5v2.5M593.15,235.5v-2.5M593.15,35.5v2.5M604.13,235.5v-2.5M604.13,35.5v2.5M615.12,235.5v-5M615.12,35.5v5M626.1,235.5v-2.5M626.1,35.5v2.5M637.08,235.5v-2.5M637.08,35.5v2.5M648.06,235.5v-2.5M648.06,35.5v2.5M659.04,235.5v-2.5M659.04,35.5v2.5M670.02,235.5v-5M670.02,35.5v5M395.5,223.74h2.5M681,223.74h-2.5M395.5,211.97h2.5M681,211.97h-2.5M395.5,200.21h2.5M681,200.21h-2.5M395.5,188.44h5M681,188.44h-5M395.5,176.68h2.5M681,176.68h-2.5M395.5,164.91h2.5M681,164.91h-2.5M395.5,153.15h2.5M681,153.15h-2.5M395.5,141.38h5M681,141.38h-5M395.5,129.62h2.5M681,129.62h-2.5M395.5,117.85h2.5M681,117.85h-2.5M395.5,106.09h2.5M681,106.09h-2.5M395.5,94.32h5M681,94.32h-5M395.5,82.56h2.5M681,82.56h-2.5M395.5,70.79h2.5M681,70.79h-2.5M395.5,59.03h2.5M681,59.03h-2.5M395.5,47.26h5M681,47.26h-5" stroke="#000" stroke-width="1.2" fill="none"/>
<text x="392.6" y="50.66" font-size="10" text-anchor="end">1.6</text>
<text x="392.6" y="97.72" font-size="10" text-anchor="end">1.2</text>
<text x="392.6" y="144.78" font-size="10" text-anchor="end">0.8</text>
<text x="392.6" y="191.84" font-size="10" text-anchor="end">0.4</text>
<text x="392.6" y="238.9" font-size="10" text-anchor="end">0</text>
<text x="395.5" y="245.4" font-size="10" text-anchor="middle">0</text>
<text x="450.4" y="245.4" font-size="10" text-anchor="middle">0.5</text>
<text x="505.31" y="245.4" font-size="10" text-anchor="middle">1</text>
<text x="560.21" y="245.4" font-size="10" text-anchor="middle">1.5</text>
<text x="615.12" y="245.4" font-size="10" text-anchor="middle">2</text>
<text x="670.02" y="245.4" font-size="10" text-anchor="middle">2.5</text>
<rect x="580.8" y="64.25" width="85.8" height="57.2" fill="#fff" stroke="none"/>
<g stroke-linejoin="round">
<path d="M580.8,94.64 L581.67,94.64 L582.53,94.64 L583.4,94.64 L584.27,94.64 L585.13,94.64 L586,94.64 L586.87,94.64 L587.73,94.64 L588.6,94.64 L589.47,94.64 L590.33,94.64 L591.2,94.64 L592.07,94.64 L592.93,94.64 L593.8,94.64 L594.67,94.64 L595.53,94.64 L596.4,94.64 L597.27,94.64 L598.13,94.64 L599,94.64 L599.87,94.64 L600.73,94.64 L601.6,94.64 L602.47,94.64 L603.33,94.64 L604.2,94.64 L605.07,94.64 L605.93,94.64 L606.8,94.64 L607.67,94.64 L608.53,94.64 L609.4,94.64 L610.27,94.64 L611.13,94.64 L612,94.64 L612.87,94.64 L613.73,94.64 L614.6,94.64 L615.47,94.64 L616.33,94.64 L617.2,94.64 L618.07,94.64 L618.93,94.64 L619.8,94.64 L620.67,94.64 L621.53,94.64 L622.4,94.64 L623.27,94.64 L624.13,94.64 L625,94.64 L625.87,94.64 L626.73,94.64 L627.6,94.64 L628.47,94.64 L629.33,94.64 L630.2,94.64 L631.07,94.64 L631.93,94.64 L632.8,94.64 L633.67,94.64 L634.53,94.64 L635.4,94.64 L636.27,94.64 L637.13,94.64 L638,94.64 L638.87,94.64 L639.73,94.64 L640.6,94.64 L641.47,94.64 L642.33,94.64 L643.2,94.64 L644.07,94.64 L644.93,94.64 L645.8,94.64 L646.67,94.64 L647.53,94.64 L648.4,94.64 L649.27,94.64 L650.13,94.64 L651,94.64 L651.87,94.64 L652.73,94.64 L653.6,94.64 L654.47,94.64 L655.33,94.64 L656.2,94.64 L657.07,94.64 L657.93,94.64 L658.8,94.64 L659.67,94.64 L660.53,94.64 L661.4,94.64 L662.27,94.64 L663.13,94.64 L664,94.64 L664.87,94.64 L665.73,94.64 L666.6,94.64" fill="none" stroke="#000" stroke-width="1.15" stroke-dasharray="6.2 2.5"/>
<path d="M580.8,90.2 L581.67,90.2 L582.53,90.2 L583.4,90.2 L584.27,90.2 L585.13,90.2 L586,90.2 L586.87,90.2 L587.73,90.2 L588.6,90.2 L589.47,90.2 L590.33,90.2 L591.2,90.2 L592.07,90.2 L592.93,90.2 L593.8,90.2 L594.67,90.2 L595.53,90.2 L596.4,90.2 L597.27,90.2 L598.13,90.21 L599,90.21 L599.87,90.21 L600.73,90.22 L601.6,90.23 L602.47,90.24 L603.33,90.25 L604.2,90.26 L605.07,90.27 L605.93,90.28 L606.8,90.29 L607.67,90.3 L608.53,90.31 L609.4,90.32 L610.27,90.33 L611.13,90.34 L612,90.34 L612.87,90.35 L613.73,90.35 L614.6,90.35 L615.47,90.35 L616.33,90.34 L617.2,90.34 L618.07,90.33 L618.93,90.33 L619.8,90.32 L620.67,90.31 L621.53,90.3 L622.4,90.3 L623.27,90.29 L624.13,90.28 L625,90.27 L625.87,90.26 L626.73,90.25 L627.6,90.24 L628.47,90.23 L629.33,90.22 L630.2,90.21 L631.07,90.19 L631.93,90.18 L632.8,90.17 L633.67,90.15 L634.53,90.13 L635.4,90.11 L636.27,90.09 L637.13,90.07 L638,90.06 L638.87,90.04 L639.73,90.02 L640.6,90.01 L641.47,90 L642.33,89.99 L643.2,89.99 L644.07,89.99 L644.93,90.01 L645.8,90.05 L646.67,90.09 L647.53,90.15 L648.4,90.2 L649.27,90.26 L650.13,90.31 L651,90.36 L651.87,90.39 L652.73,90.41 L653.6,90.42 L654.47,90.39 L655.33,90.34 L656.2,90.28 L657.07,90.2 L657.93,90.12 L658.8,90.05 L659.67,90 L660.53,89.97 L661.4,89.95 L662.27,89.92 L663.13,89.9 L664,89.88 L664.87,89.86 L665.73,89.85 L666.6,89.85" fill="none" stroke="#000" stroke-width="1.15" stroke-dasharray="6.2 2.5"/>
<path d="M580.8,92.49 L581.67,92.51 L582.53,92.52 L583.4,92.53 L584.27,92.54 L585.13,92.55 L586,92.56 L586.87,92.57 L587.73,92.58 L588.6,92.59 L589.47,92.6 L590.33,92.61 L591.2,92.61 L592.07,92.62 L592.93,92.62 L593.8,92.63 L594.67,92.63 L595.53,92.63 L596.4,92.63 L597.27,92.64 L598.13,92.64 L599,92.63 L599.87,92.63 L600.73,92.63 L601.6,92.63 L602.47,92.63 L603.33,92.62 L604.2,92.62 L605.07,92.61 L605.93,92.61 L606.8,92.61 L607.67,92.6 L608.53,92.6 L609.4,92.59 L610.27,92.59 L611.13,92.58 L612,92.57 L612.87,92.57 L613.73,92.56 L614.6,92.56 L615.47,92.55 L616.33,92.55 L617.2,92.54 L618.07,92.53 L618.93,92.53 L619.8,92.52 L620.67,92.51 L621.53,92.5 L622.4,92.5 L623.27,92.49 L624.13,92.48 L625,92.47 L625.87,92.46 L626.73,92.45 L627.6,92.45 L628.47,92.44 L629.33,92.43 L630.2,92.42 L631.07,92.41 L631.93,92.41 L632.8,92.4 L633.67,92.39 L634.53,92.39 L635.4,92.38 L636.27,92.38 L637.13,92.37 L638,92.36 L638.87,92.36 L639.73,92.35 L640.6,92.34 L641.47,92.34 L642.33,92.33 L643.2,92.32 L644.07,92.31 L644.93,92.3 L645.8,92.29 L646.67,92.28 L647.53,92.26 L648.4,92.24 L649.27,92.21 L650.13,92.18 L651,92.15 L651.87,92.11 L652.73,92.08 L653.6,92.05 L654.47,92.02 L655.33,92 L656.2,91.99 L657.07,91.99 L657.93,91.99 L658.8,92 L659.67,92 L660.53,92.01 L661.4,92.02 L662.27,92.03 L663.13,92.04 L664,92.06 L664.87,92.08 L665.73,92.11 L666.6,92.13" fill="none" stroke="#000" stroke-width="1.15"/>
<path d="M580.8,107.15 L581.67,107.15 L582.53,107.14 L583.4,107.14 L584.27,107.13 L585.13,107.13 L586,107.12 L586.87,107.11 L587.73,107.1 L588.6,107.1 L589.47,107.09 L590.33,107.08 L591.2,107.07 L592.07,107.06 L592.93,107.06 L593.8,107.05 L594.67,107.04 L595.53,107.03 L596.4,107.02 L597.27,107.01 L598.13,107 L599,106.99 L599.87,106.97 L600.73,106.96 L601.6,106.95 L602.47,106.93 L603.33,106.92 L604.2,106.9 L605.07,106.88 L605.93,106.87 L606.8,106.85 L607.67,106.84 L608.53,106.82 L609.4,106.8 L610.27,106.79 L611.13,106.77 L612,106.75 L612.87,106.74 L613.73,106.72 L614.6,106.71 L615.47,106.69 L616.33,106.68 L617.2,106.66 L618.07,106.65 L618.93,106.63 L619.8,106.62 L620.67,106.61 L621.53,106.59 L622.4,106.58 L623.27,106.56 L624.13,106.55 L625,106.53 L625.87,106.52 L626.73,106.5 L627.6,106.49 L628.47,106.47 L629.33,106.45 L630.2,106.44 L631.07,106.42 L631.93,106.4 L632.8,106.39 L633.67,106.37 L634.53,106.35 L635.4,106.34 L636.27,106.32 L637.13,106.3 L638,106.28 L638.87,106.27 L639.73,106.25 L640.6,106.23 L641.47,106.21 L642.33,106.19 L643.2,106.17 L644.07,106.15 L644.93,106.13 L645.8,106.1 L646.67,106.08 L647.53,106.06 L648.4,106.03 L649.27,106.01 L650.13,105.98 L651,105.96 L651.87,105.93 L652.73,105.9 L653.6,105.87 L654.47,105.84 L655.33,105.81 L656.2,105.78 L657.07,105.75 L657.93,105.72 L658.8,105.68 L659.67,105.65 L660.53,105.62 L661.4,105.58 L662.27,105.55 L663.13,105.51 L664,105.47 L664.87,105.44 L665.73,105.4 L666.6,105.36" fill="none" stroke="#0000ff" stroke-width="1.15" stroke-dasharray="1 2.4 4.7 2.2 1 2.2"/>
<path d="M580.8,94.78 L581.67,94.78 L582.53,94.78 L583.4,94.78 L584.27,94.78 L585.13,94.78 L586,94.78 L586.87,94.78 L587.73,94.78 L588.6,94.78 L589.47,94.78 L590.33,94.78 L591.2,94.78 L592.07,94.78 L592.93,94.78 L593.8,94.78 L594.67,94.78 L595.53,94.78 L596.4,94.78 L597.27,94.78 L598.13,94.78 L599,94.78 L599.87,94.78 L600.73,94.78 L601.6,94.78 L602.47,94.78 L603.33,94.78 L604.2,94.78 L605.07,94.78 L605.93,94.78 L606.8,94.78 L607.67,94.78 L608.53,94.78 L609.4,94.78 L610.27,94.78 L611.13,94.78 L612,94.78 L612.87,94.78 L613.73,94.78 L614.6,94.78 L615.47,94.78 L616.33,94.78 L617.2,94.78 L618.07,94.78 L618.93,94.78 L619.8,94.78 L620.67,94.78 L621.53,94.78 L622.4,94.78 L623.27,94.78 L624.13,94.78 L625,94.78 L625.87,94.78 L626.73,94.78 L627.6,94.78 L628.47,94.78 L629.33,94.78 L630.2,94.78 L631.07,94.78 L631.93,94.78 L632.8,94.78 L633.67,94.78 L634.53,94.78 L635.4,94.78 L636.27,94.78 L637.13,94.78 L638,94.78 L638.87,94.78 L639.73,94.78 L640.6,94.78 L641.47,94.78 L642.33,94.78 L643.2,94.78 L644.07,94.78 L644.93,94.78 L645.8,94.78 L646.67,94.78 L647.53,94.78 L648.4,94.78 L649.27,94.78 L650.13,94.78 L651,94.78 L651.87,94.78 L652.73,94.78 L653.6,94.78 L654.47,94.78 L655.33,94.78 L656.2,94.78 L657.07,94.78 L657.93,94.78 L658.8,94.78 L659.67,94.78 L660.53,94.78 L661.4,94.78 L662.27,94.78 L663.13,94.78 L664,94.78 L664.87,94.78 L665.73,94.78 L666.6,94.78" fill="none" stroke="#0000ff" stroke-width="1.15" stroke-dasharray="1 2.4 4.7 2.2 1 2.2"/>
<path d="M580.8,100 L581.67,100 L582.53,100 L583.4,100 L584.27,100 L585.13,100 L586,100 L586.87,100 L587.73,100 L588.6,100 L589.47,100 L590.33,100 L591.2,100 L592.07,100 L592.93,100 L593.8,100 L594.67,100 L595.53,100 L596.4,100 L597.27,100 L598.13,100 L599,100 L599.87,100 L600.73,100 L601.6,100 L602.47,100 L603.33,100 L604.2,100 L605.07,100 L605.93,100 L606.8,100 L607.67,100 L608.53,100 L609.4,100 L610.27,100 L611.13,100 L612,100 L612.87,100 L613.73,100 L614.6,100 L615.47,100 L616.33,100 L617.2,100 L618.07,100 L618.93,100 L619.8,100 L620.67,100 L621.53,100 L622.4,100 L623.27,100 L624.13,100 L625,100 L625.87,100 L626.73,100 L627.6,100 L628.47,100 L629.33,100 L630.2,100 L631.07,100 L631.93,100 L632.8,100 L633.67,100 L634.53,100 L635.4,100 L636.27,100 L637.13,100 L638,100 L638.87,100 L639.73,100 L640.6,100 L641.47,100 L642.33,100 L643.2,100 L644.07,100 L644.93,100 L645.8,100 L646.67,100 L647.53,100 L648.4,100 L649.27,100 L650.13,100 L651,100 L651.87,100 L652.73,100 L653.6,100 L654.47,100 L655.33,100 L656.2,100 L657.07,100 L657.93,100 L658.8,100 L659.67,100 L660.53,100 L661.4,100 L662.27,100 L663.13,100 L664,100 L664.87,100 L665.73,100 L666.6,100" fill="none" stroke="#0000ff" stroke-width="1.15" stroke-dasharray="1 2.4 6 2.4"/>
</g>
<rect x="580.8" y="64.25" width="85.8" height="57.2" fill="none" stroke="#000" stroke-width="1.0"/>
<path d="M587.4,121.45v-2M587.4,64.25v2M594,121.45v-2M594,64.25v2M600.6,121.45v-2M600.6,64.25v2M607.2,121.45v-2M607.2,64.25v2M613.8,121.45v-4M613.8,64.25v4M620.4,121.45v-2M620.4,64.25v2M627,121.45v-2M627,64.25v2M633.6,121.45v-2M633.6,64.25v2M640.2,121.45v-2M640.2,64.25v2M646.8,121.45v-4M646.8,64.25v4M653.4,121.45v-2M653.4,64.25v2M660,121.45v-2M660,64.25v2M580.8,114.3h4M666.6,114.3h-4M580.8,107.15h2M666.6,107.15h-2M580.8,100h4M666.6,100h-4M580.8,92.85h2M666.6,92.85h-2M580.8,85.7h4M666.6,85.7h-4M580.8,78.55h2M666.6,78.55h-2M580.8,71.4h4M666.6,71.4h-4" stroke="#000" stroke-width="1.0" fill="none"/>
<text x="578.6" y="74.2" font-size="8" text-anchor="end">1.4</text>
<text x="578.6" y="88.5" font-size="8" text-anchor="end">1.2</text>
<text x="578.6" y="102.8" font-size="8" text-anchor="end">1</text>
<text x="578.6" y="117.1" font-size="8" text-anchor="end">0.8</text>
<text x="580.8" y="129.6" font-size="8" text-anchor="middle">0</text>
<text x="613.8" y="129.6" font-size="8" text-anchor="middle">1</text>
<text x="646.8" y="129.6" font-size="8" text-anchor="middle">2</text>
<text x="592.6" y="80.6" font-size="6.55">K factors over central LO</text>
<rect x="409.6" y="157.3" width="90.7" height="49.5" fill="#fff" stroke="#000" stroke-width="1.2"/>
<path d="M412.8,164.0H429.8" stroke="#000" stroke-width="1.15"/>
<text x="435.8" y="166" font-size="8.1">NLO</text>
<text x="456.9" y="166" font-size="8.25">μ=m<tspan font-size="6" dy="3.0">t</tspan></text>
<path d="M412.8,176.2H429.8" stroke="#000" stroke-width="1.15" stroke-dasharray="6.2 2.5"/>
<text x="435.8" y="178.2" font-size="8.1">NLO</text>
<text x="456.9" y="178.2" font-size="8.25">μ=m<tspan font-size="6" dy="3.0">t</tspan><tspan dy="-3.0">/2, 2m</tspan><tspan font-size="6" dy="3.0">t</tspan></text>
<path d="M412.8,188.1H429.8" stroke="#0000ff" stroke-width="1.15" stroke-dasharray="1 2.4 6 2.4"/>
<text x="435.8" y="190.1" font-size="8.1">LO</text>
<text x="456.9" y="190.1" font-size="8.25">μ=m<tspan font-size="6" dy="3.0">t</tspan></text>
<path d="M412.8,200.1H429.8" stroke="#0000ff" stroke-width="1.15" stroke-dasharray="1 2.4 4.7 2.2 1 2.2"/>
<text x="435.8" y="202.1" font-size="8.1">LO</text>
<text x="456.9" y="202.1" font-size="8.25">μ=m<tspan font-size="6" dy="3.0">t</tspan><tspan dy="-3.0">/2, 2m</tspan><tspan font-size="6" dy="3.0">t</tspan></text>
<text x="391.2" y="13.6" font-size="12" stroke="#000" stroke-width="0.08">p p -&gt; t q γ</text>
<text x="458.2" y="13.6" font-size="12" stroke="#000" stroke-width="0.08">y</text>
<text x="464.3" y="18.2" font-size="8">t</text>
<text x="469.5" y="13.6" font-size="12" stroke="#000" stroke-width="0.08">distribution</text>
<text x="536.6" y="13.6" font-size="12" stroke="#000" stroke-width="0.08">√S=13.6 TeV</text>
<text x="614.4" y="13.6" font-size="12" stroke="#000" stroke-width="0.08">m</text>
<text x="623.3" y="18.2" font-size="8">t</text>
<text x="625.9" y="13.6" font-size="12" stroke="#000" stroke-width="0.08">=172.5 GeV</text>
<text x="439.8" y="25.5" font-size="8">MSHT20 NLO pdf</text>
<text x="512" y="25.5" font-size="8">p</text>
<text x="515.8" y="28.7" font-size="5.5">γT</text>
<text x="523.6" y="25.5" font-size="8">&gt; 10 GeV</text>
<text x="565.8" y="25.5" font-size="8">|η</text>
<text x="571.6" y="28.7" font-size="5.5">γ</text>
<text x="575.1" y="25.5" font-size="8">| &lt; 2.6</text>
<text x="604.9" y="25.5" font-size="8">ΔR &gt; 0.05</text>
<text x="532.6" y="255.8" font-size="12" stroke="#000" stroke-width="0.08">|y</text>
<text x="541" y="260.3" font-size="8">t</text>
<text x="543.3" y="255.8" font-size="12" stroke="#000" stroke-width="0.08">|</text>
<text transform="translate(372.2,166.4) rotate(-90)" font-size="12" stroke="#000" stroke-width="0.08">dσ /d|y<tspan font-size="8" dy="2.8">t</tspan><tspan dy="-2.8" xml:space="preserve">|  (pb)</tspan></text>
</svg>
</body></html>
